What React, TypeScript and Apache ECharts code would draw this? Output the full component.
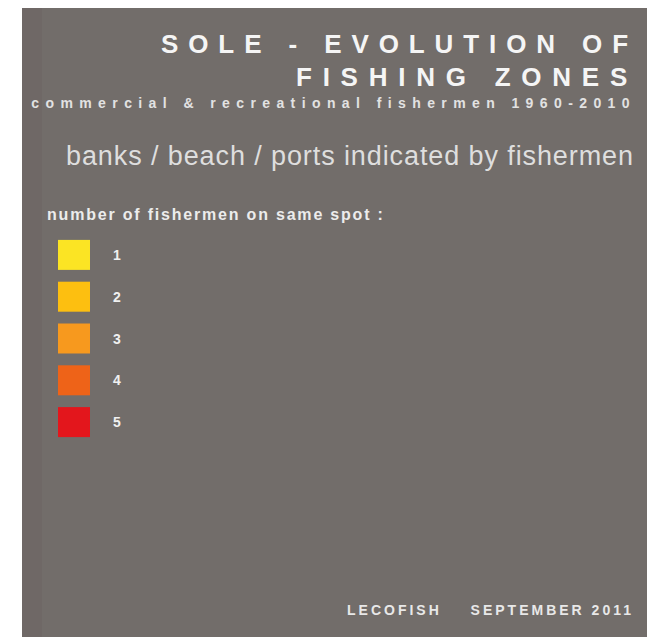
import React, { useEffect, useRef } from 'react';
import * as echarts from 'echarts';

// ---- data ----
const categories = ['1', '2', '3', '4', '5'];
const squareColors = ['#fbe424', '#fdbf10', '#f7991e', '#ee6318', '#e3161c'];
const titleLines = ['SOLE - EVOLUTION OF', 'FISHING ZONES'];
const subtitle = 'commercial & recreational fishermen 1960-2010';
const heading = 'banks / beach / ports indicated by fishermen';
const legendTitle = 'number of fishermen on same spot :';
const footerLeft = 'LECOFISH';
const footerRight = 'SEPTEMBER 2011';

const FONT = '"Liberation Sans", Arial, Helvetica, sans-serif';

export default function App() {
  const ref = useRef<HTMLDivElement>(null);

  useEffect(() => {
    if (!ref.current) return;
    const chart = echarts.init(ref.current, undefined, { renderer: 'svg' });

    const spacing: Record<string, number> = {
      [titleLines[0]]: 9.9,
      [titleLines[1]]: 10.75,
      [subtitle]: 6.4,
      [heading]: 0.9,
      [legendTitle]: 1.8,
      [footerLeft]: 3,
      [footerRight]: 3,
    };

    const txt = (
      text: string,
      x: number,
      y: number,
      size: number,
      weight: string,
      fill: string,
      align: string
    ) => ({
      type: 'text',
      x,
      y,
      silent: true,
      style: {
        text,
        fill,
        font: `${weight} ${size}px ${FONT}`,
        align,
        verticalAlign: 'middle',
      },
    });

    chart.setOption({
      animation: false,
      backgroundColor: '#ffffff',
      graphic: [
        {
          type: 'rect',
          silent: true,
          z: -10,
          shape: { x: 22, y: 8, width: 625, height: 629 },
          style: { fill: '#726d6a' },
        },
        {
          type: 'rect',
          silent: true,
          z: -9,
          shape: { x: 22, y: 8, width: 20, height: 629 },
          style: { fill: '#6f6866' },
        },
        txt(titleLines[0], 638, 44, 26, 'bold', '#f5f5f5', 'right'),
        txt(titleLines[1], 638, 77, 26, 'bold', '#f5f5f5', 'right'),
        txt(subtitle, 636, 103, 14, 'bold', '#e2e2e2', 'right'),
        txt(heading, 66, 156, 27, 'normal', '#dedede', 'left'),
        txt(legendTitle, 47, 214, 16, 'bold', '#ececec', 'left'),
        txt(footerLeft, 347, 610, 14, 'bold', '#e8e8e8', 'left'),
        txt(footerRight, 634, 610, 14, 'bold', '#e8e8e8', 'right'),
      ],
      grid: { left: 58, right: 568, top: 234, bottom: 194, containLabel: false },
      xAxis: { type: 'value', min: -1, max: 1, show: false },
      yAxis: { type: 'category', data: categories, inverse: true, show: false },
      series: [
        {
          type: 'scatter',
          symbol: 'rect',
          symbolSize: [32, 30],
          itemStyle: { opacity: 1 },
          data: categories.map((c, i) => ({
            value: [0, c],
            itemStyle: { color: squareColors[i], opacity: 1 },
          })),
          label: {
            show: true,
            position: 'right',
            distance: 23,
            formatter: (p: any) => p.value[1],
            color: '#f0f0f0',
            fontFamily: FONT,
            fontWeight: 'bold',
            fontSize: 14,
          },
          silent: true,
        },
      ],
    });

    const applySpacing = () => {
      if (!ref.current) return;
      ref.current.querySelectorAll('text').forEach((t) => {
        const s = spacing[(t.textContent || '').trim()];
        if (s) t.setAttribute('letter-spacing', String(s));
      });
    };
    applySpacing();
    const raf = requestAnimationFrame(applySpacing);
    const to = setTimeout(applySpacing, 50);

    return () => {
      cancelAnimationFrame(raf);
      clearTimeout(to);
      chart.dispose();
    };
  }, []);

  return (
    <div
      ref={ref}
      style={{ position: 'absolute', left: 0, top: 0, width: 658, height: 637 }}
    />
  );
}
